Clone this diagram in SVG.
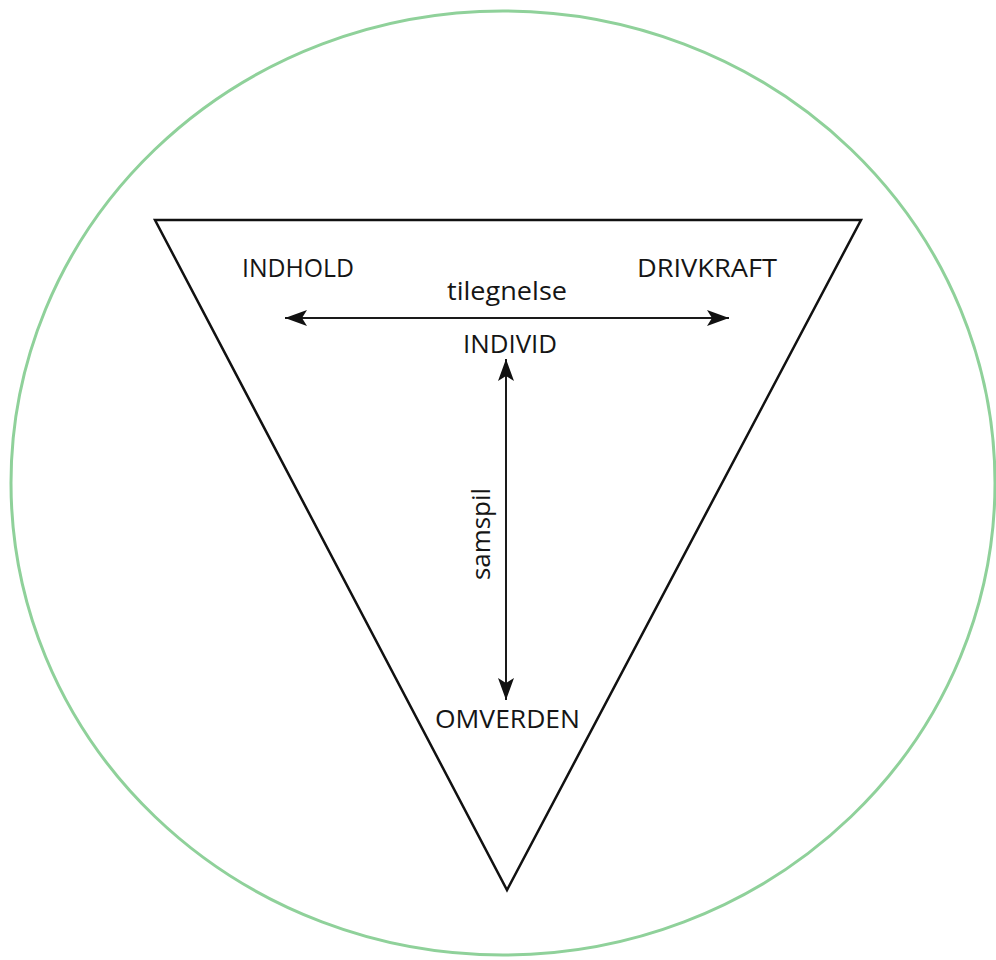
<svg xmlns="http://www.w3.org/2000/svg" width="996" height="960" viewBox="0 0 996 960">
<style>
.lbl{font-family:"Open Sans","Noto Sans","DejaVu Sans",sans-serif;font-size:26px;fill:#151515}
.conn{stroke:#1a1a1a;stroke-width:2;fill:none}
</style>
<defs>
<marker id="ah" viewBox="0 0 22 16" refX="22" refY="8" markerWidth="22" markerHeight="16" markerUnits="userSpaceOnUse" orient="auto-start-reverse">
<path d="M0,0 L22,8 L0,16 L5,8 Z" fill="#111"/>
</marker>
</defs>
<rect width="996" height="960" fill="#fff"/>
<ellipse id="circle" cx="503" cy="483" rx="492" ry="472" fill="none" stroke="#8fd19a" stroke-width="3"/>
<g id="triangle"><polygon points="155,220 861,220 507,890" fill="none" stroke="#111" stroke-width="2.5" stroke-linejoin="miter"/></g>
<g id="indhold"><text class="lbl" x="242" y="277" textLength="112" lengthAdjust="spacingAndGlyphs">INDHOLD</text></g>
<g id="drivkraft"><text class="lbl" x="637" y="277" textLength="140" lengthAdjust="spacingAndGlyphs">DRIVKRAFT</text></g>
<g id="individ"><text class="lbl" x="463" y="353" textLength="94" lengthAdjust="spacingAndGlyphs">INDIVID</text></g>
<g id="omverden"><text class="lbl" x="435" y="728" textLength="145" lengthAdjust="spacingAndGlyphs">OMVERDEN</text></g>
<g id="connectors">
<line class="conn" x1="285" y1="318" x2="729" y2="318" marker-start="url(#ah)" marker-end="url(#ah)"/>
<line class="conn" x1="506" y1="359" x2="506" y2="700" marker-start="url(#ah)" marker-end="url(#ah)"/>
<text class="lbl" x="447" y="300" textLength="120" lengthAdjust="spacingAndGlyphs">tilegnelse</text>
<text class="lbl" transform="translate(490,580) rotate(-90)" textLength="92" lengthAdjust="spacingAndGlyphs">samspil</text>
</g>
</svg>
